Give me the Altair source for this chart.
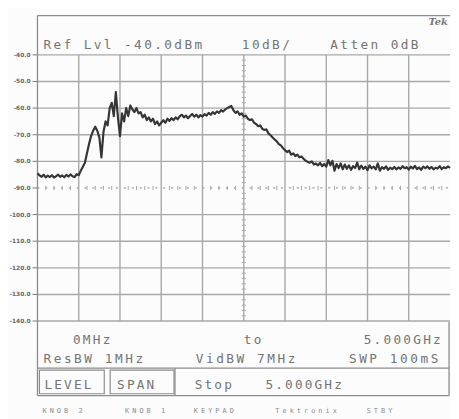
import altair as alt
import pandas as pd

# ---------------- data ----------------
level_dbm = [
    -84.5, -85.3, -85.8, -85.0, -86.0, -85.4, -85.9, -85.2, -86.1, -85.6,
    -85.0, -85.8, -85.3, -86.0, -85.1, -85.7, -84.9, -85.6, -85.9, -84.8,
    -85.2,
    -83.5, -82.0, -80.5, -77.0, -73.5, -70.5, -68.5, -67.0, -68.5, -71.0,
    -78.5, -69.0, -65.0, -66.5, -60.0, -58.0, -63.0, -54.0, -63.5, -70.5,
    -62.0, -65.0, -60.0, -63.0, -59.0, -60.5, -61.5, -60.0, -62.0, -61.5,
    -63.5, -62.5, -64.5, -63.5, -65.0, -64.0, -66.0, -65.0, -66.5, -65.5,
    -64.5, -65.5, -64.0, -64.8, -63.8, -64.5, -63.5, -64.2, -63.0, -62.5,
    -63.5, -62.8, -63.8, -63.0, -62.2, -63.2, -62.5, -63.5, -62.6, -63.2,
    -62.3, -62.8, -61.8, -62.5, -61.5, -62.2, -61.2, -61.8, -60.8, -61.3,
    -60.5, -60.0, -59.6, -59.2, -60.8, -61.8, -61.2, -62.5, -62.0, -63.2,
    -62.8, -64.0, -64.5, -64.2, -65.5, -66.0, -66.8, -66.5, -67.8, -68.2,
    -68.0, -69.5, -70.2, -71.0, -71.8, -72.5, -73.5, -74.0, -75.0, -75.8,
    -76.5, -76.0, -77.5, -77.0, -78.0, -77.5, -78.5, -78.2, -79.0, -79.8,
    -80.2, -80.5, -80.0, -81.2, -80.8, -81.5, -80.6, -81.8, -81.0, -82.0,
    -79.5, -81.5, -79.8, -83.5, -81.0, -82.5, -80.8, -83.0, -81.2, -82.8,
    -81.5, -83.2, -81.8, -82.5, -80.5, -83.0, -81.6, -82.8, -82.0, -83.3,
    -81.5, -82.6, -82.0, -83.0, -80.8, -83.5, -82.2, -82.8, -81.9, -83.2,
    -82.4, -82.9, -82.1, -83.0, -82.3, -82.8, -81.8, -82.6, -82.2, -83.1,
    -82.0, -82.7, -81.7, -82.9, -82.3, -83.2, -82.0, -82.6, -81.9, -82.8,
    -82.1, -83.0, -82.4, -82.7, -81.8, -82.9, -82.2, -82.6, -81.9, -82.5,
]
SWEEP_STEP_GHZ = 0.025
freq_ghz = [round(i * SWEEP_STEP_GHZ, 3) for i in range(len(level_dbm))]

y_ticks = [-40, -50, -60, -70, -80, -90, -100, -110, -120, -130, -140]
y_tick_labels = ["-40.0", "-50.0", "-60.0", "-70.0", "-80.0", "-90.0",
                 "-100.0", "-110.0", "-120.0", "-130.0", "-140.0"]
x_divisions = [0.5, 1.0, 1.5, 2.0, 2.5, 3.0, 3.5, 4.0, 4.5]

header_texts = ["Ref Lvl -40.0dBm", "10dB/", "Atten 0dB"]
row1_texts = ["0MHz", "to", "5.000GHz"]
row2_texts = ["ResBW 1MHz", "VidBW 7MHz", "SWP 100mS"]
row3_texts = ["LEVEL", "SPAN", "Stop", "5.000GHz"]
row4_texts = ["KNOB 2", "KNOB 1", "KEYPAD", "Tektronix", "STBY"]
logo_text = "Tek"

# ---------------- layout helpers (pixel -> data) ----------------
PLOT_W, PLOT_H = 420, 406
X_LEFT_PX, Y_TOP_PX = 38, 12
PX_PER_GHZ = 84.0
PX_PER_DB = 2.71


def gx(px):
    return (px - X_LEFT_PX) / PX_PER_GHZ


def gy(py):
    return -40 - (py - 52) / PX_PER_DB


Y_TOP = gy(Y_TOP_PX)
Y_BOT = gy(Y_TOP_PX + PLOT_H)

xs = alt.Scale(domain=[0, 5], nice=False, zero=False)
ys = alt.Scale(domain=[Y_BOT, Y_TOP], nice=False, zero=False)

GRID = "#a8a8a8"
FRAME = "#8c8c8c"
TRACE = "#353535"
TXT = "#747474"


def X(field):
    return alt.X(field, scale=xs, axis=None)


def Y(field):
    return alt.Y(field, scale=ys, axis=None)


# ---------------- trace ----------------
trace_df = pd.DataFrame({"f": freq_ghz, "lvl": level_dbm})
trace = alt.Chart(trace_df).mark_line(color=TRACE, strokeWidth=2.2, strokeJoin="round").encode(
    x=X("f:Q"), y=Y("lvl:Q"))

# ---------------- graticule ----------------
hsolid = pd.DataFrame({"x": 0.0, "x2": 5.0, "y": [v for v in y_ticks if v != -90]})
hdash = pd.DataFrame({"x": [0.0], "x2": [5.0], "y": [-90]})

h_layer = alt.Chart(hsolid).mark_rule(color=GRID, strokeWidth=1.4).encode(
    x=X("x:Q"), x2="x2:Q", y=Y("y:Q"))
hd_layer = alt.Chart(hdash).mark_rule(color="#9a9a9a", strokeWidth=1.2, strokeDash=[2, 6]).encode(
    x=X("x:Q"), x2="x2:Q", y=Y("y:Q"))

vlines = pd.DataFrame({"x": x_divisions, "y": -40, "y2": -140})
v_layer = alt.Chart(vlines).mark_rule(color=GRID, strokeWidth=1.4).encode(
    x=X("x:Q"), y=Y("y:Q"), y2="y2:Q")

# minor ticks on centre line and on the -90 line
minor_y = [v for v in range(-138, -40, 2) if v % 10 != 0]
cticks = pd.DataFrame({"x": 2.5 - 0.025, "x2": 2.5 + 0.025, "y": minor_y})
ct_layer = alt.Chart(cticks).mark_rule(color=GRID, strokeWidth=1).encode(
    x=X("x:Q"), x2="x2:Q", y=Y("y:Q"))
minor_x = [i / 10 for i in range(1, 50) if i % 5 != 0]
mticks = pd.DataFrame({"x": minor_x, "y": -89.2, "y2": -90.8})
mt_layer = alt.Chart(mticks).mark_rule(color=GRID, strokeWidth=1).encode(
    x=X("x:Q"), y=Y("y:Q"), y2="y2:Q")

# y tick labels and ticks (left of the frame)
ylab_df = pd.DataFrame({"x": gx(31), "y": y_ticks, "t": y_tick_labels})
ylab_layer = alt.Chart(ylab_df).mark_text(font="DejaVu Sans", fontSize=6, fontWeight="bold",
                                          color="#666", align="right", baseline="middle").encode(
    x=X("x:Q"), y=Y("y:Q"), text="t:N")
ytick_df = pd.DataFrame({"x": gx(33), "x2": 0.0, "y": y_ticks})
ytick_layer = alt.Chart(ytick_df).mark_rule(color="#777", strokeWidth=1).encode(
    x=X("x:Q"), x2="x2:Q", y=Y("y:Q"))

# ---------------- frame ----------------
frame_h = pd.DataFrame({
    "x": [0.0, 0.0, 0.0],
    "x2": [5.0, gx(457), gx(457)],
    "y": [Y_TOP, gy(371), gy(399)],
})
fh_layer = alt.Chart(frame_h).mark_rule(color=FRAME, strokeWidth=1.3).encode(
    x=X("x:Q"), x2="x2:Q", y=Y("y:Q"))
frame_v = pd.DataFrame({
    "x": [0.0, gx(457), gx(178)],
    "y": [Y_TOP, gy(324), gy(371)],
    "y2": [gy(399), gy(399), gy(399)],
})
fv_layer = alt.Chart(frame_v).mark_rule(color=FRAME, strokeWidth=1.3).encode(
    x=X("x:Q"), y=Y("y:Q"), y2="y2:Q")
boxes = pd.DataFrame({
    "x": [gx(40), gx(112)], "x2": [gx(106), gx(177)],
    "y": [gy(373), gy(373)], "y2": [gy(397), gy(397)],
})
box_layer = alt.Chart(boxes).mark_rect(fill="#fcfcfc", stroke=FRAME, strokeWidth=1.2).encode(
    x=X("x:Q"), x2="x2:Q", y=Y("y:Q"), y2="y2:Q")

# ---------------- text (monospace, placed per character) ----------------
rows = []


def place(texts, starts_px, center_py, pitch, glyph_w, size):
    for t, sx in zip(texts, starts_px):
        for i, ch in enumerate(t):
            if ch != " ":
                rows.append({"x": gx(sx + glyph_w / 2 + i * pitch), "y": gy(center_py),
                             "ch": ch, "fs": size})


place(header_texts, [44, 246, 336], 42, 10.25, 8, 13)
place(row1_texts, [74, 248, 370], 342, 10.1, 8, 13)
place(row2_texts, [44, 199, 355], 362, 10.4, 8, 13)
place(row3_texts, [45, 119, 198, 270], 388, 10.0, 8, 13)
place(row4_texts, [43, 127, 197, 280, 373], 415, 7.3, 4.5, 7)
text_df = pd.DataFrame(rows)

big = text_df[text_df["fs"] > 10].reset_index(drop=True)
small = text_df[text_df["fs"] <= 10].reset_index(drop=True)
big_layer = alt.Chart(big).mark_text(font="DejaVu Sans Mono", fontSize=13, color=TXT,
                                     align="center", baseline="middle").encode(
    x=X("x:Q"), y=Y("y:Q"), text="ch:N")
small_layer = alt.Chart(small).mark_text(font="DejaVu Sans Mono", fontSize=7, color="#8a8a8a",
                                         align="center", baseline="middle").encode(
    x=X("x:Q"), y=Y("y:Q"), text="ch:N")

logo_df = pd.DataFrame({"x": [gx(446)], "y": [gy(19)], "t": [logo_text]})
logo_layer = alt.Chart(logo_df).mark_text(font="DejaVu Serif", fontSize=10, fontStyle="italic",
                                          fontWeight="bold", color="#777",
                                          align="center", baseline="middle").encode(
    x=X("x:Q"), y=Y("y:Q"), text="t:N")

chart = alt.layer(
    h_layer, hd_layer, v_layer, ct_layer, mt_layer, ytick_layer, ylab_layer,
    fh_layer, fv_layer, box_layer,
    big_layer, small_layer, logo_layer, trace,
).properties(
    width=PLOT_W, height=PLOT_H,
    autosize=alt.AutoSizeParams(type="none"),
    padding={"left": 30, "top": 4, "right": 1, "bottom": 1},
    background="#fcfcfc",
).configure_view(strokeWidth=0)

chart.save("out.html", embed_options={"renderer": "svg", "actions": False})
